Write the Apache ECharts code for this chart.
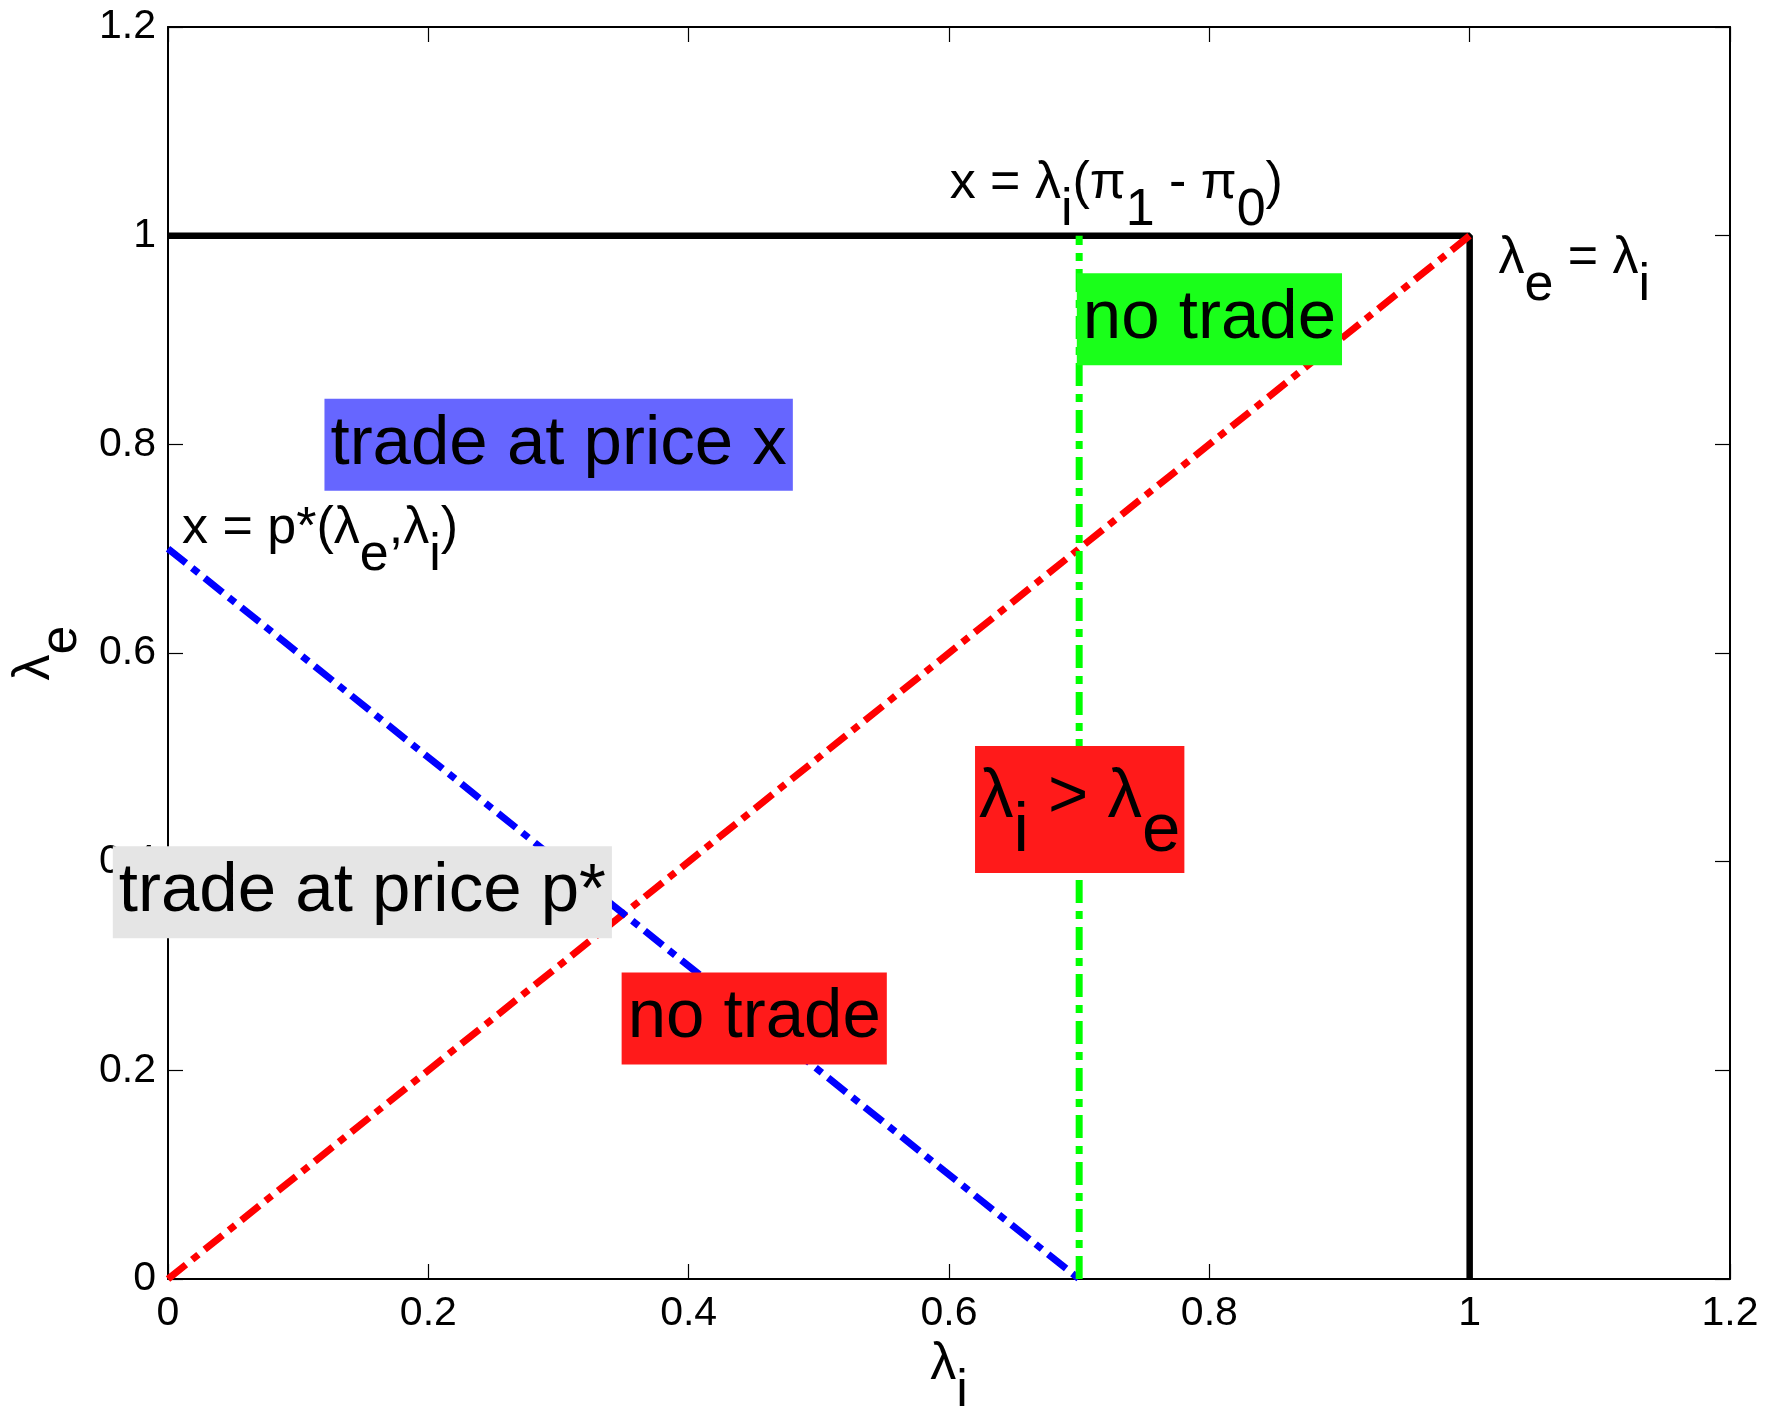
<!DOCTYPE html>
<html>
<head>
<meta charset="utf-8">
<script src="https://cdn.jsdelivr.net/npm/echarts@6/dist/echarts.min.js"></script>
<style>
html,body{margin:0;padding:0;background:#fff;}
#c{width:1765px;height:1406px;}
</style>
</head>
<body>
<div id="c"></div>
<script>
// ---- data ----
const xTicks = [0, 0.2, 0.4, 0.6, 0.8, 1, 1.2];
const xTickLabels = ['0', '0.2', '0.4', '0.6', '0.8', '1', '1.2'];
const yTicks = [0, 0.2, 0.4, 0.6, 0.8, 1, 1.2];
const yTickLabels = ['0', '0.2', '0.4', '0.6', '0.8', '1', '1.2'];

const boundaryX = [0, 1, 1];
const boundaryY = [1, 1, 0];
const diagonalX = [0, 1];
const diagonalY = [0, 1];
const pStarX = [0, 0.7];
const pStarY = [0.7, 0];
const priceX = [0.7, 0.7];
const priceY = [0, 1];

const labelTexts = [
  '{b|trade at price x}',
  '{b|no trade}',
  '{bm|λ}{bs|i}{bm| > λ}{bs|e}',
  '{b|trade at price p*}',
  '{b|no trade}',
  '{m|x = p*(λ}{s|e}{m|,λ}{s|i}{m|)}',
  '{m|x = λ}{s|i}{m|(π}{s|1}{m| - π}{s|0}{m|)}',
  '{m|λ}{s|e}{m| = λ}{s|i}'
];
const labelX = [0.1202, 0.6982, 0.62, -0.0424, 0.3485, 0.0108, 0.6005, 1.0221];
const labelY = [0.7996, 0.9199, 0.45, 0.3708, 0.2498, 0.7067, 1.0368, 0.9651];
const labelKind = ['blue', 'green', 'redSub', 'gray', 'red', 'plain', 'plain', 'plain'];

// ---- build ----
const FONT = "'Liberation Sans', Arial, Helvetica, sans-serif";
const zip = (xs, ys) => xs.map((x, i) => [x, ys[i]]);
const tickFmt = (ticks, labels) => (v) => {
  const i = ticks.findIndex(t => Math.abs(t - v) < 1e-9);
  return i >= 0 ? labels[i] : '';
};

const chart = echarts.init(document.getElementById('c'), null, {renderer: 'canvas'});

const axisCommon = {
  type: 'value', min: 0, max: 1.2, interval: 0.2,
  splitLine: {show: false},
  axisLine: {show: true, onZero: false, lineStyle: {color: '#000', width: 2}},
  axisTick: {show: true, inside: true, length: 15, lineStyle: {color: '#000', width: 1.2}}
};
const nameRich = {
  m: {fontSize: 52, height: 52, verticalAlign: 'top', fontFamily: FONT, color: '#000'},
  s: {fontSize: 52, height: 52, verticalAlign: 'top', fontFamily: FONT, color: '#000', padding: [27, 0, 0, 0]}
};

const dashDot = [23, 8, 8, 8];

chart.setOption({
  animation: false,
  backgroundColor: '#fff',
  grid: {left: 168, right: 35, top: 27, bottom: 127, show: false, containLabel: false, outerBoundsMode: 'none'},
  xAxis: [
    Object.assign({}, axisCommon, {
      position: 'bottom',
      axisLabel: {show: true, fontSize: 41, fontFamily: FONT, color: '#000', margin: 14,
                  formatter: tickFmt(xTicks, xTickLabels)},
      name: '{m|λ}{s|i}', nameLocation: 'middle', nameGap: 57,
      nameTextStyle: {fontSize: 52, fontFamily: FONT, color: '#000', rich: nameRich}
    }),
    Object.assign({}, axisCommon, {position: 'top', axisLabel: {show: false}})
  ],
  yAxis: [
    Object.assign({}, axisCommon, {
      position: 'left',
      axisLabel: {show: true, fontSize: 41, fontFamily: FONT, color: '#000', margin: 12,
                  formatter: tickFmt(yTicks, yTickLabels)},
      name: '{m|λ}{s|e}', nameLocation: 'middle', nameGap: 78,
      nameTextStyle: {fontSize: 52, fontFamily: FONT, color: '#000', rich: nameRich}
    }),
    Object.assign({}, axisCommon, {position: 'right', axisLabel: {show: false}})
  ],
  series: [
    {type: 'line', data: zip(boundaryX, boundaryY), showSymbol: false, symbol: 'none',
     lineStyle: {color: '#000', width: 6.5, type: 'solid'}, z: 2},
    {type: 'line', data: zip(diagonalX, diagonalY), showSymbol: false, symbol: 'none',
     lineStyle: {color: '#ff0000', width: 7, type: dashDot}, z: 3},
    {type: 'line', data: zip(pStarX, pStarY), showSymbol: false, symbol: 'none',
     lineStyle: {color: '#0000ff', width: 7, type: dashDot}, z: 3},
    {type: 'line', data: zip(priceX, priceY), showSymbol: false, symbol: 'none',
     lineStyle: {color: '#00ff00', width: 7, type: dashDot}, z: 3}
  ]
});

const bigRich = {
  b: {fontSize: 69, height: 76, fontFamily: FONT, color: '#000'},
  bm: {fontSize: 69, height: 68, verticalAlign: 'top', fontFamily: FONT, color: '#000'},
  bs: {fontSize: 69, height: 68, verticalAlign: 'top', fontFamily: FONT, color: '#000', padding: [34, 0, 0, 0]}
};
const smallRich = {
  m: {fontSize: 52, height: 52, verticalAlign: 'top', fontFamily: FONT, color: '#000'},
  s: {fontSize: 52, height: 52, verticalAlign: 'top', fontFamily: FONT, color: '#000', padding: [27, 0, 0, 0]}
};
const kindStyle = {
  blue: {bg: '#6666ff', pad: [8, 6, 8, 6], rich: bigRich},
  green: {bg: '#1aff1a', pad: [8, 6, 8, 6], rich: bigRich},
  gray: {bg: '#e5e5e5', pad: [8, 6, 8, 6], rich: bigRich},
  red: {bg: '#ff1a1a', pad: [8, 6, 8, 6], rich: bigRich},
  redSub: {bg: '#ff1a1a', pad: [18, 4, 7, 4], rich: bigRich},
  plain: {bg: null, pad: [0, 0, 0, 0], rich: smallRich}
};

const graphics = labelTexts.map((t, i) => {
  const p = chart.convertToPixel({xAxisIndex: 0, yAxisIndex: 0}, [labelX[i], labelY[i]]);
  const k = kindStyle[labelKind[i]];
  const style = {
    text: t, x: 0, y: 0, align: 'left', verticalAlign: 'middle',
    fill: '#000', fontSize: 52, fontFamily: FONT, rich: k.rich, padding: k.pad
  };
  if (k.bg) style.backgroundColor = k.bg;
  return {type: 'text', x: p[0], y: p[1], z: 100, silent: true, style: style};
});
chart.setOption({graphic: graphics});
</script>
</body>
</html>
